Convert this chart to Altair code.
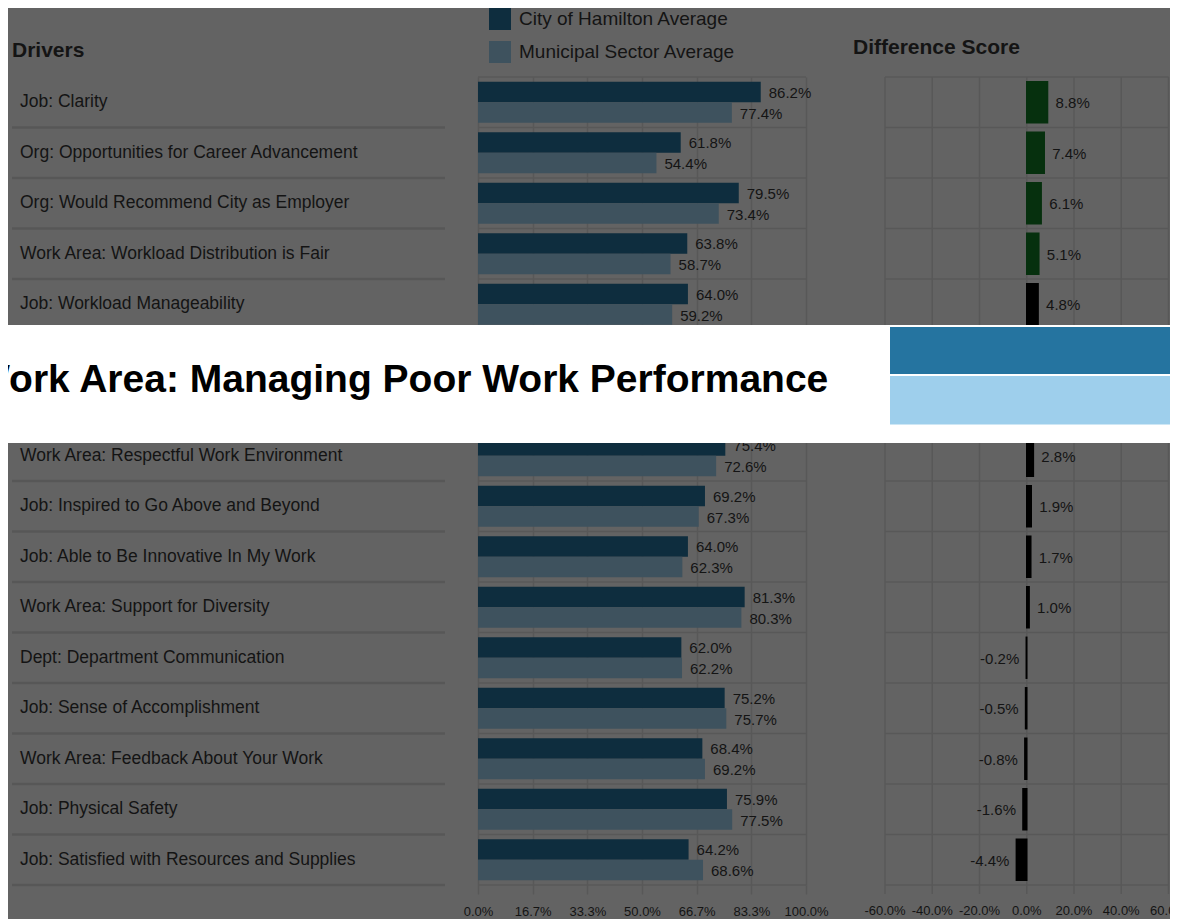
import altair as alt
import pandas as pd

# ---------------- data ----------------
drivers = [
    "Job: Clarity",
    "Org: Opportunities for Career Advancement",
    "Org: Would Recommend City as Employer",
    "Work Area: Workload Distribution is Fair",
    "Job: Workload Manageability",
    "Work Area: Managing Poor Work Performance",
    "(row hidden by tooltip)",
    "Work Area: Respectful Work Environment",
    "Job: Inspired to Go Above and Beyond",
    "Job: Able to Be Innovative In My Work",
    "Work Area: Support for Diversity",
    "Dept: Department Communication",
    "Job: Sense of Accomplishment",
    "Work Area: Feedback About Your Work",
    "Job: Physical Safety",
    "Job: Satisfied with Resources and Supplies",
]
city = [86.2, 61.8, 79.5, 63.8, 64.0, None, None, 75.4, 69.2, 64.0, 81.3, 62.0, 75.2, 68.4, 75.9, 64.2]
muni = [77.4, 54.4, 73.4, 58.7, 59.2, None, None, 72.6, 67.3, 62.3, 80.3, 62.2, 75.7, 69.2, 77.5, 68.6]
diff = [8.8, 7.4, 6.1, 5.1, 4.8, None, None, 2.8, 1.9, 1.7, 1.0, -0.2, -0.5, -0.8, -1.6, -4.4]
series = ["City of Hamilton Average", "Municipal Sector Average"]
pct_ticks = [i * 100 / 6 for i in range(7)]
diff_ticks = [-60, -40, -20, 0, 20, 40, 60]
tooltip_title = "Work Area: Managing Poor Work Performance"
hidden = [drivers[5], drivers[6]]
after_hidden = drivers[7]

# ---------------- styles ----------------
BG = "#636363"
DARK = "#0e2d3e"
LIGHT = "#3e525e"
GREEN = "#06300e"
TEXT = "#141414"
GRID = "#585858"
SEP = "#575757"
TIP_DARK = "#2574a0"
TIP_LIGHT = "#9ecfec"
FONT = "Liberation Sans, Arial, sans-serif"
MINUS_FIX = "replace(format(datum.{f}, '.1f'), '\u2212', '-') + '%'"

H = 808
STEP = H / 16
HALF = STEP / 2
EXTRA = 36                 # room below the rows for the difference-panel tick labels
W1, W2, W3 = 470, 407, 285
H3 = H + EXTRA
PX2 = 328 / 100.0          # px per percent in bar panel
PX3 = 283.5 / 120.0        # px per percent in difference panel
TITLE_X = -35              # tooltip title start, relative to the first panel

rows = pd.DataFrame({"driver": drivers, "city": city, "muni": muni, "diff": diff})
visible = rows.dropna().reset_index(drop=True)
long = pd.concat([
    pd.DataFrame({"driver": visible["driver"], "series": series[0], "value": visible["city"]}),
    pd.DataFrame({"driver": visible["driver"], "series": series[1], "value": visible["muni"]}),
], ignore_index=True)

row_scale = alt.Scale(domain=drivers, paddingInner=0, paddingOuter=0)
row_scale3 = alt.Scale(domain=drivers, paddingInner=0, paddingOuter=EXTRA / (2 * STEP), align=0)


def Yrow(field="driver:N", scale=row_scale, **kw):
    return alt.Y(field, scale=scale, axis=None, **kw)


hid_df = pd.DataFrame({"a": [hidden[0]], "b": [hidden[1]], "c": [after_hidden]})
title_df = pd.DataFrame({"t": [tooltip_title], "r": [hidden[1]]})


def overlay_box(x0, x1, scale=row_scale):
    return alt.Chart(hid_df).mark_rect(color="white", yOffset=-4.5 - HALF, y2Offset=12.5 - HALF).encode(
        y=Yrow("a:N", scale), y2="c:N", x=alt.value(x0), x2=alt.value(x1))


def overlay_text(xpos):
    return alt.Chart(title_df).mark_text(
        align="left", baseline="alphabetic", font=FONT, fontSize=39, fontWeight="bold",
        color="black", clip=True, dy=-13).encode(
        x=alt.value(xpos), y=Yrow("r:N"), text="t:N")


# ---------------- panel 1: driver labels ----------------
p1_labels = alt.Chart(visible).mark_text(
    align="left", baseline="middle", font=FONT, fontSize=17.5, color=TEXT).encode(
    y=Yrow(), x=alt.value(12), text="driver:N")
p1_sep = alt.Chart(rows).mark_rule(color=SEP, strokeWidth=2.5).encode(
    y=Yrow(bandPosition=1), x=alt.value(4), x2=alt.value(437))
p1_head = alt.Chart(pd.DataFrame({"t": ["Drivers"]})).mark_text(
    align="left", baseline="middle", font=FONT, fontSize=21, fontWeight="bold", color=TEXT).encode(
    x=alt.value(4), y=alt.value(-26), text="t:N")
p1 = alt.layer(p1_sep, p1_labels, p1_head, overlay_box(0, W1 + 2), overlay_text(TITLE_X)).properties(
    width=W1, height=H)

# ---------------- panel 2: bars ----------------
xs2 = alt.Scale(domain=[0, W2 / PX2], nice=False, zero=True)
x2_axis = alt.Axis(values=pct_ticks, labelExpr="format(datum.value, '.1f') + '%'", grid=True,
                   gridColor=GRID, gridWidth=1.5, domain=False, tickColor=GRID, tickSize=9,
                   tickWidth=1.5, labelColor=TEXT, labelFontSize=13, labelFont=FONT,
                   labelPadding=11, labelOverlap=False, labelFlush=False, title=None)
yoff = alt.YOffset("series:N", scale=alt.Scale(domain=series, paddingInner=0, paddingOuter=0.23))
p2_hl = alt.Chart(rows).mark_rule(color=GRID, strokeWidth=1.5).encode(
    y=Yrow(bandPosition=0), x=alt.datum(0, scale=xs2), x2=alt.datum(100))
p2_hl_end = alt.Chart(rows.tail(1)).mark_rule(color=GRID, strokeWidth=1.5).encode(
    y=Yrow(bandPosition=1), x=alt.datum(0), x2=alt.datum(100))
p2_bars = alt.Chart(long).mark_bar().encode(
    y=Yrow(), yOffset=yoff,
    x=alt.X("value:Q", scale=xs2, axis=x2_axis),
    color=alt.Color("series:N", scale=alt.Scale(domain=series, range=[DARK, LIGHT]),
                    legend=alt.Legend(title=None, orient="none", legendX=481, legendY=-69,
                                      direction="vertical", symbolType="square", symbolSize=484,
                                      symbolStrokeWidth=0, symbolOpacity=1, labelFontSize=19,
                                      labelColor=TEXT, labelFont=FONT, rowPadding=11,
                                      labelOffset=8, padding=0, labelLimit=600)))
p2_text = alt.Chart(long).transform_calculate(
    label="format(datum.value, '.1f') + '%'").mark_text(
    align="left", baseline="middle", dx=8, dy=1, font=FONT, fontSize=15, color=TEXT).encode(
    y=Yrow(), yOffset=yoff, x="value:Q", text="label:N")
p2 = alt.layer(p2_hl, p2_hl_end, p2_bars, p2_text, overlay_box(-2, W2 + 2),
               overlay_text(TITLE_X - W1)).properties(width=W2, height=H)

# ---------------- panel 3: difference ----------------
xs3 = alt.Scale(domain=[-60, -60 + W3 / PX3], nice=False, zero=False)
tick_df = pd.DataFrame({"v": diff_ticks})
LO, HI = str(diff_ticks[0]), str(diff_ticks[-1])
dcol = alt.condition("datum.diff >= 5", alt.value(GREEN), alt.value("black"))
Y3 = lambda field="driver:N", **kw: Yrow(field, row_scale3, **kw)
p3_vgrid = alt.Chart(tick_df).mark_rule(color=GRID, strokeWidth=1.5).encode(
    x=alt.X("v:Q", scale=xs3, axis=None), y=alt.value(0), y2=alt.value(H))
p3_ticks = alt.Chart(tick_df).mark_rule(color=GRID, strokeWidth=1.5).encode(
    x=alt.X("v:Q", axis=None), y=alt.value(H), y2=alt.value(H + 9))
p3_tlab = alt.Chart(tick_df).transform_filter("datum.v < 60").transform_calculate(
    label=MINUS_FIX.format(f="v")).mark_text(
    align="center", baseline="top", font=FONT, fontSize=13, color=TEXT).encode(
    x=alt.X("v:Q", axis=None), y=alt.value(H + 20), text="label:N")
p3_tlab_edge = alt.Chart(tick_df).transform_filter("datum.v >= 60").transform_calculate(
    label=MINUS_FIX.format(f="v")).mark_text(
    align="center", baseline="top", font=FONT, fontSize=13, color=TEXT, clip=True).encode(
    x=alt.X("v:Q", axis=None), y=alt.value(H + 20), text="label:N")
p3_hl = alt.Chart(rows).transform_calculate(lo=LO, hi=HI).mark_rule(color=GRID, strokeWidth=1.5).encode(
    y=Y3(bandPosition=0), x=alt.X("lo:Q", axis=None), x2="hi:Q")
p3_hl_end = alt.Chart(rows.tail(1)).transform_calculate(lo=LO, hi=HI).mark_rule(
    color=GRID, strokeWidth=1.5).encode(
    y=Y3(bandPosition=1), x=alt.X("lo:Q", axis=None), x2="hi:Q")
p3_bars = alt.Chart(visible).mark_bar(height={"band": 0.81}, strokeWidth=1.5).encode(
    y=Y3(), x=alt.X("diff:Q", axis=None), x2=alt.datum(0),
    color=dcol, stroke=dcol)
p3_pos = alt.Chart(visible).transform_filter("datum.diff >= 0").transform_calculate(
    label=MINUS_FIX.format(f="diff")).mark_text(
    align="left", baseline="middle", dx=8, dy=1, font=FONT, fontSize=15, color=TEXT).encode(
    y=Y3(), x=alt.X("diff:Q", axis=None), text="label:N")
p3_neg = alt.Chart(visible).transform_filter("datum.diff < 0").transform_calculate(
    label=MINUS_FIX.format(f="diff")).mark_text(
    align="right", baseline="middle", dx=-7, dy=1, font=FONT, fontSize=15, color=TEXT).encode(
    y=Y3(), x=alt.X("diff:Q", axis=None), text="label:N")
p3_head = alt.Chart(pd.DataFrame({"t": ["Difference Score"]})).mark_text(
    align="left", baseline="middle", font=FONT, fontSize=21, fontWeight="bold", color=TEXT).encode(
    x=alt.value(-32), y=alt.value(-29), text="t:N")
tip_dark = alt.Chart(hid_df).mark_rect(color=TIP_DARK, yOffset=-2.5 - HALF, y2Offset=-6 - HALF).encode(
    y=Y3("a:N"), y2="b:N", x=alt.value(5), x2=alt.value(W3))
tip_light = alt.Chart(hid_df).mark_rect(color=TIP_LIGHT, yOffset=-4 - HALF, y2Offset=-6 - HALF).encode(
    y=Y3("b:N"), y2="c:N", x=alt.value(5), x2=alt.value(W3))
p3 = alt.layer(p3_vgrid, p3_ticks, p3_tlab, p3_tlab_edge, p3_hl, p3_hl_end, p3_bars, p3_pos, p3_neg,
               p3_head, overlay_box(-2, W3, row_scale3), tip_dark, tip_light).properties(
    width=W3, height=H3)

chart = alt.hconcat(p1, p2, p3, spacing=0, bounds="flush").properties(padding=0).configure(
    background=BG, font=FONT).configure_view(strokeWidth=0)

chart.save("out.html", embed_options={"renderer": "svg", "actions": False})
